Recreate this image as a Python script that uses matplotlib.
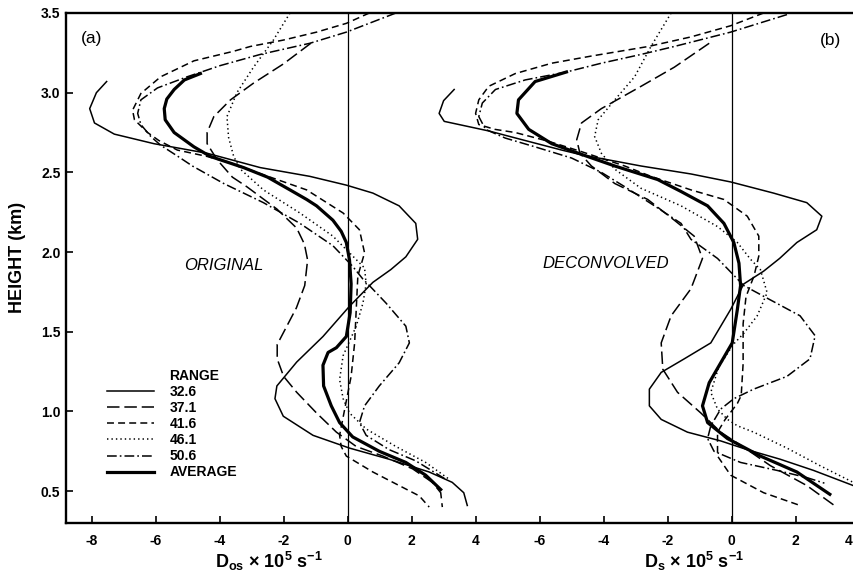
import numpy as np
import matplotlib
matplotlib.use("Agg")
import matplotlib.pyplot as plt
from matplotlib.lines import Line2D

plt.rcParams['font.family'] = ['Liberation Sans', 'DejaVu Sans']
plt.rcParams['mathtext.fontset'] = 'custom'
plt.rcParams['mathtext.rm'] = 'Liberation Sans:bold'
plt.rcParams['mathtext.default'] = 'rm'
plt.rcParams['lines.scale_dashes'] = False

# range gates (km) and the profiles: (D x 1e5 s^-1, height km), top to bottom
ranges = ["32.6", "37.1", "41.6", "46.1", "50.6"]

# (a) original
a_326 = [(-7.53, 3.07), (-7.85, 3.0), (-8.06, 2.90), (-7.91, 2.81), (-7.29, 2.74), (-6.05, 2.68),
         (-4.39, 2.62), (-2.73, 2.53), (-1.18, 2.475), (-0.04, 2.42), (0.79, 2.37), (1.61, 2.29),
         (2.13, 2.18), (2.19, 2.08), (1.82, 1.97), (1.35, 1.89), (0.79, 1.81), (0.06, 1.66),
         (-0.77, 1.47), (-1.59, 1.31), (-2.21, 1.16), (-2.27, 1.08), (-2.01, 0.97), (-1.08, 0.85),
         (0.06, 0.77), (1.30, 0.70), (2.55, 0.62), (3.27, 0.555), (3.63, 0.49), (3.74, 0.41)]
a_371 = [(-1.15, 3.31), (-2.01, 3.18), (-2.94, 3.06), (-3.66, 2.955), (-4.18, 2.85), (-4.39, 2.75),
         (-4.39, 2.68), (-4.08, 2.58), (-3.6, 2.47), (-3.15, 2.41), (-2.21, 2.27), (-1.59, 2.15),
         (-1.35, 2.05), (-1.25, 1.95), (-1.34, 1.79), (-1.60, 1.65), (-1.90, 1.535), (-2.2, 1.42),
         (-2.2, 1.33), (-2.0, 1.22), (-1.59, 1.12), (-0.97, 0.99), (-0.35, 0.87), (0.27, 0.78),
         (1.10, 0.72), (2.03, 0.64), (2.65, 0.555), (2.91, 0.49), (2.96, 0.40)]
a_416 = [(0.68, 3.5), (-0.04, 3.435), (-0.97, 3.38), (-2.01, 3.33), (-3.04, 3.29), (-3.56, 3.26),
         (-4.80, 3.20), (-5.84, 3.10), (-6.46, 2.995), (-6.72, 2.89), (-6.66, 2.83), (-6.25, 2.75),
         (-5.9, 2.70), (-5.32, 2.64), (-4.39, 2.60), (-3.5, 2.55), (-2.84, 2.50), (-1.28, 2.39),
         (-0.14, 2.245), (0.37, 2.14), (0.53, 1.995), (0.32, 1.85), (0.27, 1.64), (0.22, 1.43),
         (0.11, 1.22), (-0.09, 1.015), (-0.25, 0.85), (-0.20, 0.78), (-0.04, 0.72), (0.79, 0.62),
         (1.61, 0.535), (2.24, 0.47), (2.55, 0.40)]
a_461 = [(-1.80, 3.50), (-2.32, 3.33), (-2.94, 3.16), (-3.46, 3.0), (-3.77, 2.85), (-3.72, 2.72),
         (-3.56, 2.60), (-3.35, 2.52), (-2.63, 2.39), (-1.49, 2.245), (-0.46, 2.10), (0.16, 1.975),
         (0.53, 1.90), (0.58, 1.80), (0.48, 1.68), (0.27, 1.535), (-0.14, 1.35), (-0.25, 1.20),
         (-0.14, 1.08), (0.06, 0.99), (0.58, 0.89), (1.51, 0.78), (2.44, 0.68), (3.17, 0.575)]
a_506 = [(1.51, 3.50), (-0.04, 3.38), (-1.18, 3.31), (-2.73, 3.24), (-3.98, 3.17), (-5.01, 3.10),
         (-5.94, 3.03), (-6.46, 2.955), (-6.56, 2.87), (-6.46, 2.80), (-6.15, 2.725), (-5.84, 2.67),
         (-5.3, 2.60), (-4.85, 2.54), (-3.87, 2.43), (-2.63, 2.31), (-1.49, 2.18), (-0.46, 2.04),
         (0.16, 1.91), (0.48, 1.83), (0.68, 1.79), (1.20, 1.68), (1.82, 1.535), (1.93, 1.43),
         (1.61, 1.305), (0.99, 1.16), (0.53, 1.035), (0.37, 0.93), (0.58, 0.85), (1.30, 0.76),
         (2.13, 0.69), (3.06, 0.575)]
a_avg = [(-4.6, 3.12), (-5.1, 3.08), (-5.42, 3.02), (-5.65, 2.96), (-5.73, 2.90), (-5.70, 2.83),
         (-5.42, 2.75), (-4.80, 2.66), (-4.29, 2.60), (-3.25, 2.53), (-2.5, 2.47), (-1.80, 2.39),
         (-1.28, 2.33), (-0.97, 2.29), (-0.46, 2.20), (-0.2, 2.13), (-0.04, 2.06), (0.06, 1.95),
         (0.11, 1.80), (0.08, 1.62), (-0.04, 1.47), (-0.35, 1.40), (-0.61, 1.37), (-0.77, 1.29),
         (-0.75, 1.16), (-0.51, 1.035), (-0.25, 0.93), (0.16, 0.84), (0.99, 0.75), (1.82, 0.68),
         (2.44, 0.60), (2.91, 0.51)]

# (b) deconvolved
b_326 = [(-8.67, 3.02), (-9.0, 2.95), (-9.14, 2.87), (-8.98, 2.82), (-7.59, 2.76), (-6.55, 2.705),
         (-5.31, 2.64), (-4.69, 2.61), (-2.83, 2.54), (-1.27, 2.49), (-0.03, 2.44), (1.31, 2.37),
         (2.35, 2.31), (2.82, 2.225), (2.66, 2.14), (2.04, 2.06), (1.5, 1.96), (1.0, 1.88),
         (0.38, 1.80), (-0.03, 1.64), (-0.65, 1.43), (-1.48, 1.33), (-2.20, 1.245), (-2.57, 1.14),
         (-2.57, 1.035), (-2.20, 0.95), (-1.38, 0.87), (-0.34, 0.815), (0.49, 0.76), (1.52, 0.70),
         (2.56, 0.63), (3.80, 0.535), (4.3, 0.50)]
b_371 = [(-0.70, 3.31), (-1.79, 3.16), (-2.83, 3.04), (-4.07, 2.90), (-4.69, 2.81), (-4.84, 2.705),
         (-4.74, 2.62), (-4.38, 2.54), (-3.65, 2.43), (-2.62, 2.33), (-1.79, 2.20), (-1.17, 2.10),
         (-0.91, 1.96), (-1.27, 1.77), (-1.89, 1.60), (-2.20, 1.43), (-2.15, 1.265), (-1.69, 1.12),
         (-0.96, 0.99), (-0.34, 0.87), (0.49, 0.76), (1.21, 0.66), (2.35, 0.535), (3.28, 0.40)]
b_416 = [(1.0, 3.5), (-0.03, 3.42), (-1.27, 3.35), (-2.6, 3.29), (-4.38, 3.23), (-5.62, 3.185),
         (-6.76, 3.12), (-7.59, 3.04), (-7.90, 2.955), (-8.00, 2.87), (-7.90, 2.80), (-7.4, 2.77),
         (-6.76, 2.75), (-5.72, 2.695), (-4.69, 2.63), (-3.34, 2.54), (-2.52, 2.475), (-1.27, 2.39),
         (-0.24, 2.33), (0.49, 2.225), (0.85, 2.10), (0.85, 1.975), (0.7, 1.85), (0.45, 1.72),
         (0.36, 1.55), (0.36, 1.3), (0.30, 1.10), (0.18, 1.05), (-0.2, 0.95), (-0.44, 0.87),
         (-0.44, 0.72), (-0.03, 0.60), (1.0, 0.49), (2.14, 0.41)]
b_461 = [(-1.89, 3.50), (-2.52, 3.29), (-3.03, 3.10), (-3.65, 2.955), (-4.17, 2.83), (-4.28, 2.725),
         (-4.07, 2.62), (-3.65, 2.52), (-2.83, 2.40), (-1.58, 2.29), (-0.44, 2.16), (0.18, 2.06),
         (0.59, 1.955), (0.9, 1.89), (1.11, 1.745), (0.80, 1.60), (0.38, 1.49), (0.05, 1.42),
         (-0.4, 1.28), (-0.65, 1.12), (-0.44, 1.015), (-0.13, 0.95), (0.18, 0.91), (0.69, 0.87),
         (1.73, 0.77), (2.76, 0.66), (3.80, 0.555), (4.2, 0.52)]
b_506 = [(1.73, 3.49), (-0.03, 3.38), (-1.79, 3.29), (-2.83, 3.24), (-4.07, 3.185), (-5.16, 3.13),
         (-6.45, 3.08), (-7.38, 3.02), (-7.79, 2.935), (-7.90, 2.85), (-7.69, 2.77), (-7.07, 2.715),
         (-6.14, 2.66), (-5.0, 2.59), (-4.07, 2.50), (-3.34, 2.41), (-2.41, 2.29), (-1.58, 2.18),
         (-1.27, 2.08), (-0.44, 1.96), (0.38, 1.79), (1.21, 1.70), (2.14, 1.60), (2.61, 1.475),
         (2.45, 1.33), (1.73, 1.22), (0.69, 1.14), (0.07, 1.08), (-0.34, 1.015), (-0.65, 0.91),
         (-0.75, 0.83), (-0.55, 0.75), (0.28, 0.68), (1.42, 0.63), (2.35, 0.585), (2.9, 0.55)]
b_avg = [(-5.16, 3.13), (-6.14, 3.07), (-6.66, 2.955), (-6.71, 2.87), (-6.34, 2.77), (-5.62, 2.68),
         (-4.79, 2.62), (-3.65, 2.54), (-2.31, 2.455), (-1.58, 2.38), (-0.75, 2.29), (-0.24, 2.18),
         (0.07, 2.06), (0.23, 1.93), (0.28, 1.79), (0.18, 1.64), (0.02, 1.43), (-0.34, 1.305),
         (-0.70, 1.18), (-0.91, 1.035), (-0.75, 0.93), (-0.13, 0.83), (0.90, 0.72), (2.04, 0.62),
         (3.07, 0.48)]

# the two panels share one axis; panel (b) is shifted right by this many units
shift_b = 12.0

thin = 1.1
styles = [
    dict(lw=thin, linestyle='-'),
    dict(lw=thin, linestyle=(0, (9, 3.5))),
    dict(lw=thin, linestyle=(0, (5, 3))),
    dict(lw=thin, linestyle=(0, (1, 2.2))),
    dict(lw=thin, linestyle=(0, (7, 2.2, 1.2, 2.2))),
]
avg_style = dict(lw=2.3, linestyle='-')

fig = plt.figure(figsize=(8.54, 5.73), dpi=100)
xmin, xmax = -8.8, 16.3
px_per_unit = 32.0
ax = fig.add_axes([66 / 854, 50 / 573, (xmax - xmin) * px_per_unit / 854, 510 / 573])

handles = [Line2D([], [], linestyle='none')]
labels = ["RANGE"]
for shift, curves, avg in [(0.0, [a_326, a_371, a_416, a_461, a_506], a_avg),
                           (shift_b, [b_326, b_371, b_416, b_461, b_506], b_avg)]:
    for pts, st, rng in zip(curves, styles, ranges):
        x, h = np.array(pts).T
        ln, = ax.plot(x + shift, h, color='k', dash_capstyle='butt', **st)
        if shift == 0.0:
            handles.append(ln)
            labels.append(rng)
    x, h = np.array(avg).T
    ln, = ax.plot(x + shift, h, color='k', **avg_style)
    if shift == 0.0:
        handles.append(ln)
        labels.append("AVERAGE")

# zero lines of both panels
ax.axvline(0, color='k', lw=0.9)
ax.axvline(shift_b, color='k', lw=0.9)

ax.set_xlim(xmin, xmax)
ax.set_ylim(0.3, 3.5)

ticks_a = [-8, -6, -4, -2, 0, 2, 4]
ticks_b = [-6, -4, -2, 0, 2, 4]
ax.set_xticks(ticks_a + [t + shift_b for t in ticks_b])
# last label of (b) sits on the right edge and is drawn separately
ax.set_xticklabels([str(t) for t in ticks_a] + [str(t) for t in ticks_b[:-1]] + [""])
ax.set_yticks([0.5, 1.0, 1.5, 2.0, 2.5, 3.0, 3.5])
ax.set_yticklabels(["0.5", "1.0", "1.5", "2.0", "2.5", "3.0", "3.5"])
ax.tick_params(axis='x', direction='in', length=5, width=1.2, pad=8, labelsize=10)
ax.tick_params(axis='y', direction='in', length=5, width=1.2, pad=4, labelsize=10)
for lab in ax.get_xticklabels() + ax.get_yticklabels():
    lab.set_fontweight('bold')
fig.text(853 / 854, 1 - 541 / 573, str(ticks_b[-1]), fontsize=10, fontweight='bold',
         ha='right', va='center')

ax.spines['right'].set_visible(False)
for s in ['left', 'top', 'bottom']:
    ax.spines[s].set_linewidth(1.7)

leg = ax.legend(handles, labels, loc='upper left', bbox_to_anchor=(107 / 854, 1 - 369 / 573),
                bbox_transform=fig.transFigure, frameon=False, borderpad=0, borderaxespad=0,
                handlelength=3.4, handletextpad=1.1, labelspacing=0.15,
                prop=dict(size=10, weight='bold'))

fig.text(92 / 854, 1 - 38 / 573, "(a)", fontsize=12.5, ha='center', va='center')
fig.text(831 / 854, 1 - 40 / 573, "(b)", fontsize=12.5, ha='center', va='center')
fig.text(224 / 854, 1 - 265 / 573, "ORIGINAL", fontsize=12, style='italic', ha='center', va='center')
fig.text(606 / 854, 1 - 264 / 573, "DECONVOLVED", fontsize=12, style='italic', ha='center', va='center')

fig.text(18 / 854, 1 - 257 / 573, "HEIGHT (km)", rotation=90, fontsize=13, fontweight='bold',
         ha='center', va='center')
fig.text(269 / 854, 1 - 561 / 573, r"D$_{os}$ × 10$^{5}$ s$^{-1}$", fontsize=13,
         fontweight='bold', ha='center', va='center')
fig.text(694 / 854, 1 - 561 / 573, r"D$_{s}$ × 10$^{5}$ s$^{-1}$", fontsize=13,
         fontweight='bold', ha='center', va='center')

fig.savefig("out.png", dpi=100)
